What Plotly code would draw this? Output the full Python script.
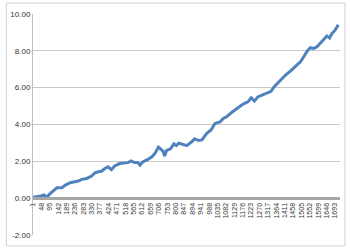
import plotly.graph_objects as go

# category index (1..1720) at which each value was read
categories = [1, 23, 45, 62, 80, 89, 117, 135, 163, 182, 209, 237, 255, 274, 301,
              329, 348, 366, 384, 403, 421, 440, 458, 486, 514, 532, 550, 569, 587,
              600, 615, 642, 670, 688, 703, 716, 729, 738, 749, 771, 790, 803, 818,
              845, 864, 891, 906, 928, 947, 974, 998, 1020, 1048, 1067, 1085, 1113,
              1140, 1168, 1186, 1205, 1223, 1241, 1260, 1288, 1315, 1334, 1352, 1380,
              1400, 1417, 1444, 1472, 1500, 1518, 1537, 1555, 1573, 1592, 1610, 1629,
              1647, 1662, 1675, 1693, 1711]
values = [0.05, 0.08, 0.12, 0.18, 0.05, 0.18, 0.45, 0.57, 0.57, 0.71, 0.84, 0.89,
          0.93, 1.02, 1.07, 1.20, 1.38, 1.43, 1.46, 1.61, 1.70, 1.55, 1.75, 1.88,
          1.90, 1.93, 2.02, 1.93, 1.93, 1.79, 1.97, 2.09, 2.27, 2.50, 2.77, 2.64,
          2.55, 2.29, 2.59, 2.68, 2.95, 2.86, 2.99, 2.90, 2.86, 3.07, 3.22, 3.13,
          3.16, 3.52, 3.70, 4.06, 4.14, 4.33, 4.42, 4.65, 4.86, 5.04, 5.15, 5.23,
          5.45, 5.27, 5.50, 5.60, 5.72, 5.80, 6.05, 6.34, 6.55, 6.70, 6.91, 7.15,
          7.42, 7.69, 7.99, 8.17, 8.13, 8.22, 8.40, 8.62, 8.81, 8.70, 8.94, 9.12,
          9.42]
x_tick_labels = [1, 48, 95, 142, 189, 236, 283, 330, 377, 424, 471, 518, 565, 612,
                 659, 706, 753, 800, 847, 894, 941, 988, 1035, 1082, 1129, 1176,
                 1223, 1270, 1317, 1364, 1411, 1458, 1505, 1552, 1599, 1646, 1693]
y_tick_values = [-2, 0, 2, 4, 6, 8, 10]
y_tick_labels = ["-2.00", "0.00", "2.00", "4.00", "6.00", "8.00", "10.00"]
n_categories = 1720

fig = go.Figure()
fig.add_trace(go.Scatter(
    x=categories, y=values, mode="lines",
    line=dict(color="#4f81bd", width=3),
    showlegend=False, hoverinfo="skip",
))

ymin, ymax = -2, 10
fig.update_layout(
    width=350, height=250,
    margin=dict(l=29, r=10, t=14, b=13),
    paper_bgcolor="white", plot_bgcolor="white",
    font=dict(family="Liberation Sans, Arial, sans-serif", color="#333333"),
    xaxis=dict(
        range=[0.5, n_categories + 0.5],
        tickmode="array",
        tickvals=x_tick_labels,
        ticktext=[str(t) for t in x_tick_labels],
        tickangle=-90,
        tickfont=dict(size=7, color="#333333"),
        showgrid=False, zeroline=False,
        showline=True, linecolor="#a6a6a6", linewidth=3,
        anchor="free",
        position=(0 - ymin) / (ymax - ymin),
        ticks="",
        ticklen=0,
    ),
    yaxis=dict(
        range=[ymin, ymax],
        tickmode="array",
        tickvals=y_tick_values,
        ticktext=y_tick_labels,
        tickfont=dict(size=8, color="#333333"),
        showgrid=True, gridcolor="#c8c8c8", gridwidth=1,
        zeroline=False,
        showline=True, linecolor="#bfbfbf", linewidth=1,
        ticks="", ticklen=0,
    ),
)

# light chart-area border
fig.add_shape(type="rect", xref="paper", yref="paper",
              x0=-27 / 311, x1=1 + 5 / 311, y0=-11 / 223, y1=1 + 11 / 223,
              line=dict(color="#d0d0d0", width=1), layer="below")

fig.write_html("out.html")
